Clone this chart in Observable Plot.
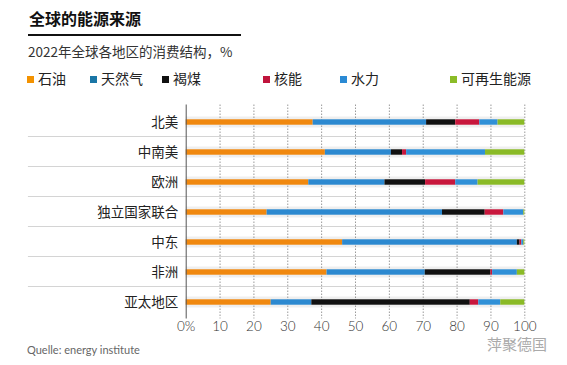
<!DOCTYPE html>
<html>
<head>
<meta charset="utf-8">
<script src="https://cdn.jsdelivr.net/npm/d3@7"></script>
<script src="https://cdn.jsdelivr.net/npm/@observablehq/plot@0.6"></script>
<style>
  html, body { margin: 0; padding: 0; background: #fff; }
  body { width: 567px; height: 365px; position: relative; overflow: hidden;
         font-family: "Noto Sans CJK SC", "Noto Sans", sans-serif; color: #222; }
  .abs { position: absolute; white-space: nowrap; }
  #title { left: 29px; top: 8px; font-size: 16px; font-weight: bold; color: #111; line-height: 20px; }
  #rule { left: 28px; top: 34px; width: 213px; height: 2px; background: #111; }
  #subtitle { left: 28px; top: 41px; font-size: 13.5px; color: #333; line-height: 20px; }
  .leg { top: 68px; font-size: 14px; color: #222; line-height: 20px; }
  .sw { display: inline-block; width: 7px; height: 7px; margin-right: 4px; vertical-align: 1px; }
  #chart { left: 0; top: 100px; }
  #source { left: 27px; top: 342px; font-family: Lato, sans-serif; font-size: 11px; color: #666; line-height: 16px; }
  #wm { left: 487px; top: 335px; font-size: 15px; color: #aaa; line-height: 18px; }
</style>
</head>
<body>
<div id="title" class="abs">全球的能源来源</div>
<div id="rule" class="abs"></div>
<div id="subtitle" class="abs">2022年全球各地区的消费结构，%</div>
<div id="legend"></div>
<div id="chart" class="abs"></div>
<div id="source" class="abs">Quelle: energy institute</div>
<div id="wm" class="abs">萍聚德国</div>
<script>
const regions = ["北美", "中南美", "欧洲", "独立国家联合", "中东", "非洲", "亚太地区"];
const sources = ["石油", "天然气", "褐煤", "核能", "水力", "可再生能源"];
const oil     = [37.5, 41.1, 36.2, 23.9, 46.2, 41.6, 25.1];
const gas     = [33.5, 19.5, 22.5, 51.8, 51.6, 29.0, 12.0];
const coal    = [8.6, 3.3, 12.0, 12.6, 0.8, 19.4, 46.8];
const nuclear = [7.1, 1.2, 8.9, 5.5, 0.5, 0.5, 2.5];
const hydro   = [5.4, 23.3, 6.6, 5.9, 0.6, 7.3, 6.5];
const renew   = [7.9, 11.6, 13.8, 0.3, 0.3, 2.2, 7.1];
const xTicks = [0, 10, 20, 30, 40, 50, 60, 70, 80, 90, 100];
const xTickLabels = ["0%", "10", "20", "30", "40", "50", "60", "70", "80", "90", "100"];

const barColors = ["#f0880f", "#2c89d0", "#111111", "#c8173c", "#3090d7", "#8aba26"];
const legendColors = ["#f39200", "#1a76a6", "#111111", "#c0143c", "#2a8ad4", "#8bbc28"];
const legendX = [27, 90, 162, 263, 340, 450];

// legend (HTML)
const leg = document.getElementById("legend");
sources.forEach((s, i) => {
  const d = document.createElement("div");
  d.className = "abs leg";
  d.style.left = legendX[i] + "px";
  d.innerHTML = `<span class="sw" style="background:${legendColors[i]}"></span>${s}`;
  leg.appendChild(d);
});

const series = [oil, gas, coal, nuclear, hydro, renew];
const data = [];
regions.forEach((r, ri) => {
  sources.forEach((s, si) => data.push({region: r, source: s, value: series[si][ri]}));
});

const H = 240, mt = 4.5, mb = 21.5;
const bw = (H - mt - mb) / regions.length;
const leftExtent = -46.6;

const chart = Plot.plot({
  width: 567,
  height: H,
  marginLeft: 185.7,
  marginRight: 42.7,
  marginTop: mt,
  marginBottom: mb,
  style: {fontFamily: "'Noto Sans CJK SC', sans-serif", background: "transparent", overflow: "visible"},
  x: {domain: [0, 100], axis: null},
  y: {domain: regions, padding: 0, axis: null},
  color: {domain: sources, range: barColors},
  marks: [
    Plot.barX(regions, {x1: 0, x2: 100, y: d => d, fill: "#efefef", insetTop: 9.5, insetBottom: 9.5}),
    Plot.ruleX(xTicks.slice(1), {stroke: "#9a9a9a", strokeDasharray: "1.5,1.5", strokeWidth: 1}),
    Plot.barX(regions.slice(0, regions.length - 1), {x1: leftExtent, x2: 100, y: d => d, fill: "#9a9a9a", insetTop: bw - 1, insetBottom: 0}),
    Plot.barX(data, {x: "value", y: "region", fill: "source", insetTop: (bw - 6) / 2, insetBottom: (bw - 6) / 2}),
    Plot.ruleX([0], {stroke: "#555", strokeWidth: 1}),
    Plot.axisY({tickSize: 0, tickPadding: 8, fontSize: 13.5, fill: "#222", label: null}),
    Plot.axisX({ticks: xTicks, tickFormat: (d) => xTickLabels[xTicks.indexOf(d)], tickSize: 0, tickPadding: 2,
                fontSize: 13.5, fontFamily: "Lato, sans-serif", fontWeight: 300, fill: "#333", label: null})
  ]
});
document.getElementById("chart").appendChild(chart);
</script>
</body>
</html>
